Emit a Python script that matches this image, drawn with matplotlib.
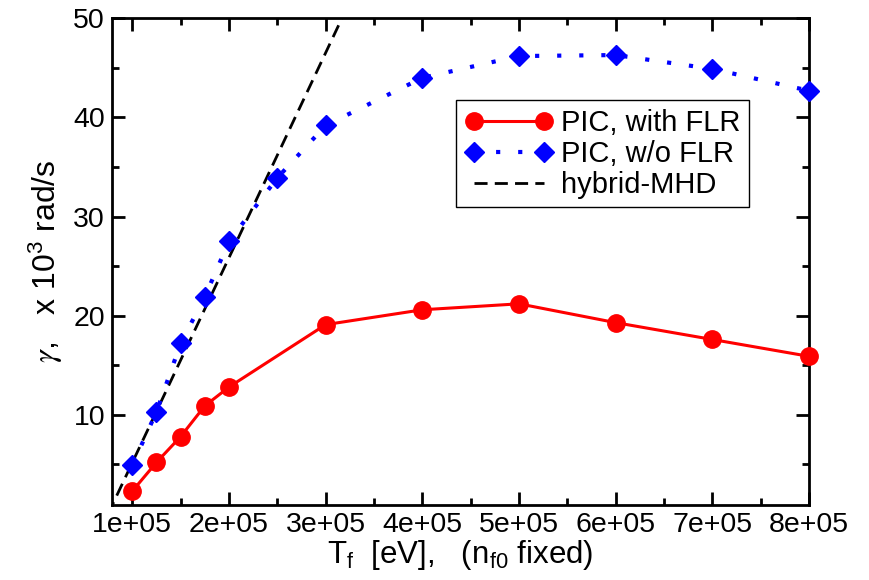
import matplotlib
matplotlib.use("Agg")
import matplotlib.pyplot as plt
from matplotlib.ticker import MultipleLocator, FuncFormatter

plt.rcParams['font.family'] = ['Liberation Sans', 'DejaVu Sans']
plt.rcParams['mathtext.fontset'] = 'stix'
plt.rcParams['mathtext.default'] = 'regular'

# PIC with finite Larmor radius effects
flr_T = [1.0e5, 1.25e5, 1.5e5, 1.75e5, 2.0e5, 3.0e5, 4.0e5, 5.0e5, 6.0e5, 7.0e5, 8.0e5]
flr_gamma = [2.3, 5.2, 7.8, 10.9, 12.8, 19.1, 20.6, 21.2, 19.3, 17.6, 15.9]

# PIC without FLR
noflr_T = [1.0e5, 1.25e5, 1.5e5, 1.75e5, 2.0e5, 2.5e5, 3.0e5, 4.0e5, 5.0e5, 6.0e5, 7.0e5, 8.0e5]
noflr_gamma = [4.9, 10.3, 17.2, 21.9, 27.5, 33.9, 39.2, 44.0, 46.2, 46.3, 44.9, 42.7]

# hybrid-MHD (linear)
hybrid_T = [0.75e5, 3.25e5]
hybrid_gamma = [0.0, 51.7]

fig = plt.figure(figsize=(8.7, 5.8), dpi=100)
ax = fig.add_axes([0.1287, 0.1293, 0.8013, 0.8390])

ax.plot(flr_T, flr_gamma, color='#ff0000', lw=2.2, marker='o', markersize=12.5,
        label='PIC, with FLR', zorder=3, clip_on=False)
ax.plot(noflr_T, noflr_gamma, color='#0000ff', lw=3.0, linestyle=(0, (1, 4.3)),
        marker='D', markersize=10.5, label='PIC, w/o FLR', zorder=3, clip_on=False)
ax.plot(hybrid_T, hybrid_gamma, color='black', lw=2.0, linestyle=(0, (4.7, 2.6)),
        label='hybrid-MHD', zorder=2)

ax.set_xlim(0.79e5, 8.0e5)
ax.set_ylim(0.9, 50)
ax.xaxis.set_major_locator(MultipleLocator(1e5))
ax.xaxis.set_minor_locator(MultipleLocator(0.5e5))
ax.yaxis.set_major_locator(MultipleLocator(10))
ax.yaxis.set_minor_locator(MultipleLocator(5))
ax.xaxis.set_major_formatter(FuncFormatter(lambda v, p: '%de+05' % round(v / 1e5)))
ax.set_yticks([10, 20, 30, 40, 50])

for s in ax.spines.values():
    s.set_linewidth(2.0)
ax.tick_params(which='both', direction='in', top=True, right=True, width=2.0,
               labelsize=20.5)
ax.tick_params(which='major', length=9.5, pad=5)
ax.tick_params(which='minor', length=5)

ax.set_xlabel('T$_f$  [eV],   (n$_{f0}$ fixed)', fontsize=22.5, labelpad=0)
ax.set_ylabel(r'$\mathit{\gamma}$,   x 10$^3$ rad/s', fontsize=23, labelpad=6)

leg = ax.legend(loc='upper left', bbox_to_anchor=(0.4935, 0.832), borderaxespad=0,
                fontsize=21, numpoints=2, handlelength=3.0, fancybox=False,
                edgecolor='black', framealpha=1, borderpad=0.3, labelspacing=0.1,
                handletextpad=0.3)
leg.get_frame().set_linewidth(1.0)

fig.savefig('out.png', dpi=100)
